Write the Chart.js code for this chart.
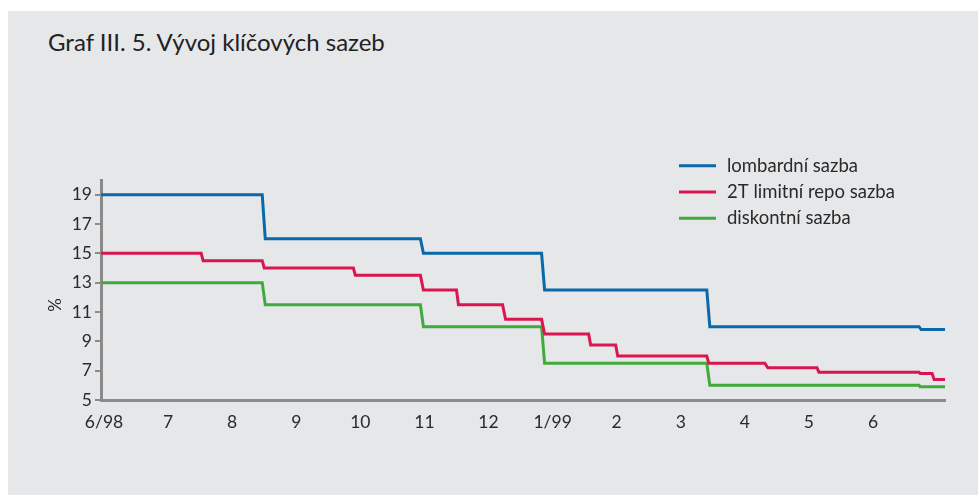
<!DOCTYPE html>
<html><head><meta charset="utf-8">
<script src="https://cdn.jsdelivr.net/npm/chart.js@4/dist/chart.umd.min.js"></script>
<style>
html,body{margin:0;padding:0;background:#fff;width:978px;height:495px;overflow:hidden}
#panel{position:absolute;left:8px;top:11px;width:970px;height:484px;background:#e6e7e9}
#title{position:absolute;left:48px;top:30px;font-family:Lato,sans-serif;font-size:24px;line-height:24px;color:#222;white-space:nowrap}
canvas{position:absolute;left:0;top:0}
</style></head>
<body>
<div id="panel"></div>
<div id="title">Graf III. 5. Vývoj klíčových sazeb</div>
<canvas id="c" width="978" height="495"></canvas>
<script>
// x = months since 1 June 1998
const monthLabels = ['6/98','7','8','9','10','11','12','1/99','2','3','4','5','6'];
const yTickValues = [5,7,9,11,13,15,17,19];
const seriesNames = ['lombardní sazba','2T limitní repo sazba','diskontní sazba'];
const seriesColors = ['#0a69a8','#d9164f','#3fab3c'];

const lombardX = [0, 2.516, 2.563, 4.984, 5.031, 6.875, 6.922, 9.453, 9.5, 12.766, 12.797, 13.17];
const lombardY = [19, 19, 16, 16, 15, 15, 12.5, 12.5, 10, 10, 9.8, 9.8];

const repoX = [0, 1.563, 1.594, 2.516, 2.547, 3.938, 3.969, 4.984, 5.031, 5.547, 5.578, 6.266, 6.313, 6.875, 6.922, 7.609, 7.641, 8.031, 8.063, 9.453, 9.484, 10.359, 10.406, 11.172, 11.203, 12.766, 12.781, 12.969, 13.0, 13.17];
const repoY = [15, 15, 14.5, 14.5, 14, 14, 13.5, 13.5, 12.5, 12.5, 11.5, 11.5, 10.5, 10.5, 9.5, 9.5, 8.75, 8.75, 8, 8, 7.5, 7.5, 7.2, 7.2, 6.9, 6.9, 6.8, 6.8, 6.4, 6.4];

const discountX = [0, 2.516, 2.563, 4.984, 5.031, 6.875, 6.922, 9.453, 9.5, 12.766, 12.781, 13.17];
const discountY = [13, 13, 11.5, 11.5, 10, 10, 7.5, 7.5, 6, 6, 5.9, 5.9];

const toPts = (xs, ys) => xs.map((x, i) => ({x, y: ys[i]}));
const allSeries = [toPts(lombardX, lombardY), toPts(repoX, repoY), toPts(discountX, discountY)];

const textColor = '#2a2a2a';
const axisColor = '#8a8a8a';
const fontFamily = 'Lato, sans-serif';

const sideLegend = {
  id: 'sideLegend',
  afterDraw(chart) {
    const ctx = chart.ctx;
    ctx.save();
    chart.data.datasets.forEach((ds, i) => {
      const y = 165.7 + i * 26.3;
      ctx.strokeStyle = ds.borderColor;
      ctx.lineWidth = 3;
      ctx.beginPath(); ctx.moveTo(679, y); ctx.lineTo(716, y); ctx.stroke();
      ctx.fillStyle = textColor;
      ctx.font = '18.5px ' + fontFamily;
      ctx.textAlign = 'left';
      ctx.textBaseline = 'middle';
      ctx.fillText(ds.label, 727, y);
    });
    ctx.translate(56, 305);
    ctx.rotate(-Math.PI / 2);
    ctx.font = '17px ' + fontFamily;
    ctx.fillStyle = textColor;
    ctx.textAlign = 'center';
    ctx.textBaseline = 'middle';
    ctx.fillText('%', 0, 0);
    ctx.restore();
  }
};

new Chart(document.getElementById('c'), {
  type: 'line',
  data: {
    datasets: allSeries.map((pts, i) => ({
      label: seriesNames[i],
      data: pts,
      borderColor: seriesColors[i],
      backgroundColor: seriesColors[i],
      borderWidth: 3,
      pointRadius: 0,
      tension: 0,
      fill: false
    }))
  },
  options: {
    responsive: false,
    animation: false,
    devicePixelRatio: 1,
    layout: { padding: { top: 180, right: 33, bottom: 0, left: 0 } },
    plugins: { legend: { display: false }, title: { display: false }, tooltip: { enabled: false } },
    scales: {
      x: {
        type: 'linear',
        min: 0,
        max: 13.17,
        afterBuildTicks(scale) { scale.ticks = monthLabels.map((_, i) => ({ value: i })); },
        afterFit(scale) { scale.height = 95; },
        ticks: {
          autoSkip: false,
          maxRotation: 0,
          padding: 12,
          labelOffset: 3,
          color: textColor,
          font: { family: fontFamily, size: 17.5 },
          callback: (v, i) => monthLabels[i]
        },
        grid: { display: false, drawTicks: false },
        border: { display: true, color: axisColor, width: 3 }
      },
      y: {
        min: 5,
        max: 20,
        afterBuildTicks(scale) { scale.ticks = yTickValues.map(v => ({ value: v })); },
        afterFit(scale) { scale.width = 101; },
        ticks: {
          padding: 3,
          color: textColor,
          font: { family: fontFamily, size: 17.5 }
        },
        grid: { drawOnChartArea: false, drawTicks: true, tickLength: 6, color: axisColor, lineWidth: 2 },
        border: { display: true, color: axisColor, width: 3 }
      }
    }
  },
  plugins: [sideLegend]
});
</script>
</body></html>
